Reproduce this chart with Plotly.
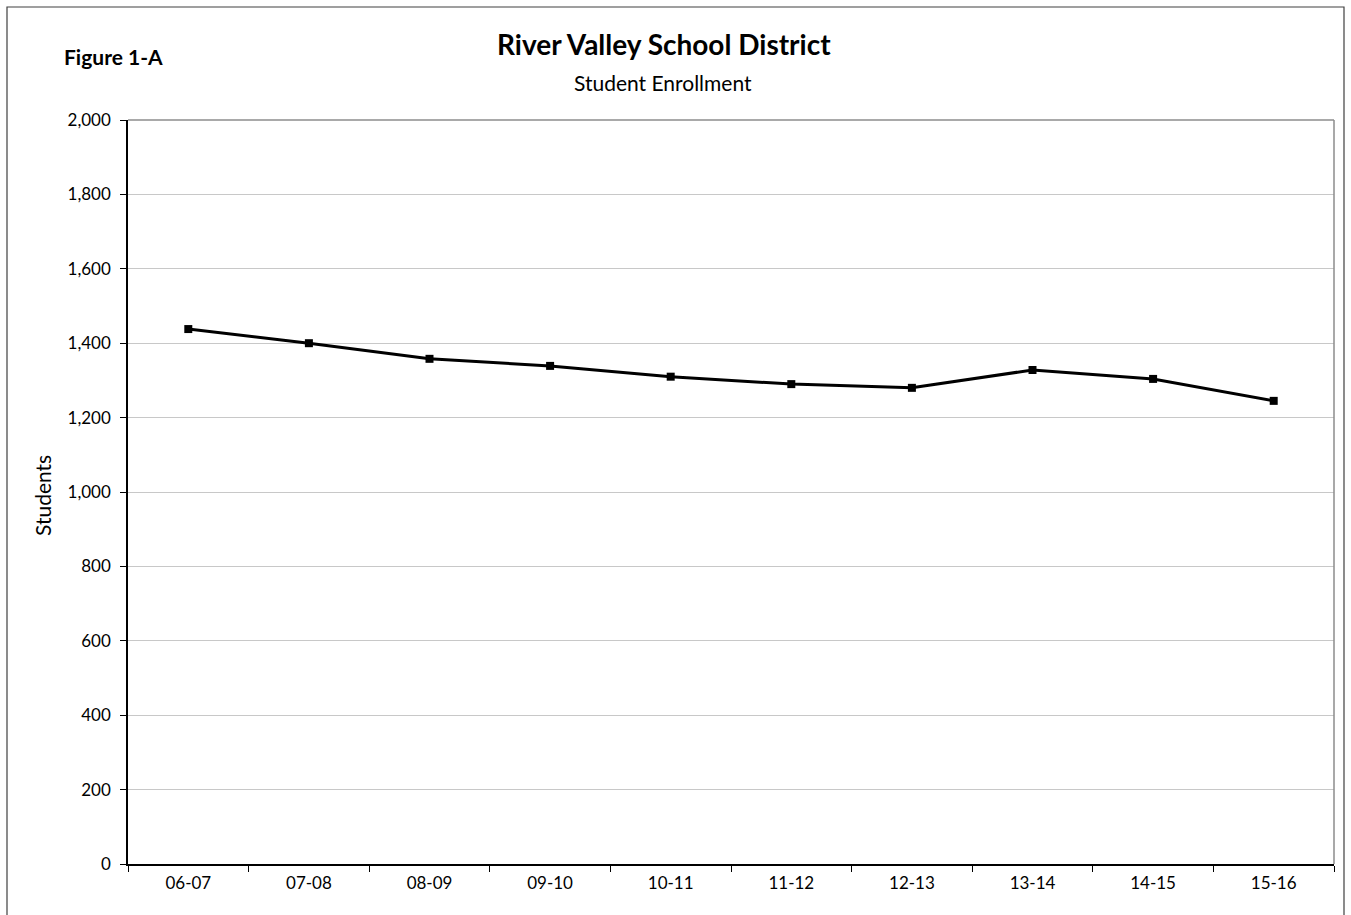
import plotly.graph_objects as go

years = ["06-07", "07-08", "08-09", "09-10", "10-11", "11-12", "12-13", "13-14", "14-15", "15-16"]
students = [1438, 1400, 1358, 1339, 1310, 1290, 1280, 1328, 1304, 1245]
y_ticks = [0, 200, 400, 600, 800, 1000, 1200, 1400, 1600, 1800, 2000]

W, H = 1351, 915
L, R, T, B = 128, 1334, 120, 864
FONT = "Lato, 'Open Sans', sans-serif"

fig = go.Figure()
fig.add_trace(go.Scatter(
    x=years, y=students, mode="lines+markers",
    line=dict(color="black", width=3),
    marker=dict(symbol="square", size=8, color="black"),
    showlegend=False, hoverinfo="x+y",
))

pw, ph = R - L, B - T
def px2x(px): return (px - L) / pw
def py2y(py): return (B - py) / ph

fig.update_layout(
    width=W, height=H,
    margin=dict(l=L, r=W - R, t=T, b=H - B, pad=0),
    paper_bgcolor="white", plot_bgcolor="white",
    font=dict(family=FONT, size=17, color="black"),
    xaxis=dict(
        type="category", tickson="boundaries", ticks="outside", ticklen=6,
        tickcolor="black", showline=True, linecolor="black", linewidth=1.5,
        showgrid=False, tickfont=dict(size=17), fixedrange=True,
        range=[-0.5, len(years) - 0.5], ticklabelstandoff=3,
    ),
    yaxis=dict(
        range=[0, 2000], tickvals=y_ticks, tickformat=",", ticks="outside", ticklen=6,
        tickcolor="black", showline=True, linecolor="black", linewidth=1.5,
        showgrid=True, gridcolor="#C8C8C8", gridwidth=1, zeroline=False,
        tickfont=dict(size=17), fixedrange=True, ticklabelstandoff=6,
    ),
    shapes=[
        dict(type="line", xref="paper", yref="paper", x0=0, x1=1, y0=1, y1=1,
             line=dict(color="#8C8C8C", width=1.5)),
        dict(type="line", xref="paper", yref="paper", x0=1, x1=1, y0=0, y1=1,
             line=dict(color="#8C8C8C", width=1.5)),
        dict(type="rect", xref="paper", yref="paper",
             x0=px2x(7), x1=px2x(1344), y0=py2y(930), y1=py2y(7),
             line=dict(color="#404040", width=1.2), layer="below"),
    ],
    annotations=[
        dict(text="<b>River Valley School District</b>", xref="paper", yref="paper",
             x=px2x(664), y=py2y(44), xanchor="center", yanchor="middle",
             showarrow=False, font=dict(size=28)),
        dict(text="Student Enrollment", xref="paper", yref="paper",
             x=px2x(663), y=py2y(83), xanchor="center", yanchor="middle",
             showarrow=False, font=dict(size=21)),
        dict(text="<b>Figure 1-A</b>", xref="paper", yref="paper",
             x=px2x(62), y=py2y(57), xanchor="left", yanchor="middle",
             showarrow=False, font=dict(size=21)),
        dict(text="Students", xref="paper", yref="paper", textangle=-90,
             x=px2x(42), y=py2y(496), xanchor="center", yanchor="middle",
             showarrow=False, font=dict(size=21)),
    ],
)

fig.write_html("out.html", config={"displayModeBar": False},
               post_script="document.body.style.margin='0px';document.body.style.overflow='hidden';")
